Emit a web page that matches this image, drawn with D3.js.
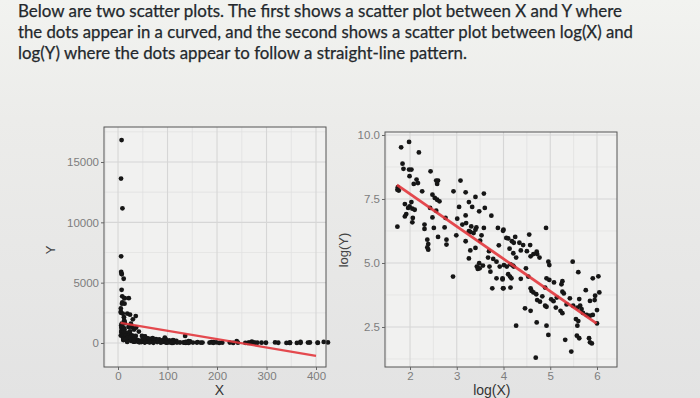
<!DOCTYPE html>
<html>
<head>
<meta charset="utf-8">
<script src="https://cdn.jsdelivr.net/npm/d3@7"></script>
<style>
  html, body { margin: 0; padding: 0; background: #e9e9e8; }
  svg { display: block; }
</style>
</head>
<body>
<svg id="chart" width="700" height="398"></svg>
<script>
// ---------------- DATA ----------------
const introLines = [
  "Below are two scatter plots.  The first shows a scatter plot between X and Y where",
  "the dots appear in a curved, and the second shows a scatter plot between log(X) and",
  "log(Y) where the dots appear to follow a straight-line pattern."
];

const logX = [
  1.98,1.81,2.19,1.84,1.86,1.98,2.03,1.99,2.14,2.17,2.08,2.44,2.56,2.60,2.58,1.74,1.76,1.73,2.26,3.08,
  2.93,2.48,2.53,2.58,2.63,3.19,3.40,3.58,3.26,1.89,1.99,2.05,2.10,1.96,2.03,2.43,2.56,3.05,3.33,3.48,
  3.60,1.92,1.89,2.06,2.05,2.48,2.76,3.19,3.01,3.74,1.73,2.31,2.31,2.51,2.74,3.12,3.20,3.31,3.42,3.40,
  3.26,3.29,3.36,3.53,3.58,3.88,3.99,2.60,2.78,2.99,3.19,3.50,2.37,2.39,2.37,2.39,2.78,3.29,3.40,3.69,
  3.90,4.06,
  4.00,4.91,4.25,4.10,4.18,4.22,4.34,4.42,4.55,4.57,4.37,4.50,4.13,4.71,
  3.26,3.78,3.67,3.85,3.48,3.43,3.49,3.56,3.45,3.70,3.92,2.92,3.72,3.85,3.98,3.76,3.99,
  4.21,4.27,4.58,4.64,4.72,4.77,4.01,4.07,4.15,4.20,4.22,4.48,4.96,4.98,5.48,3.98,4.10,4.14,4.17,
  4.37,4.53,5.60,4.92,4.98,5.08,5.26,5.24,5.91,4.00,4.15,4.58,4.60,4.64,4.70,4.89,5.26,5.29,5.76,
  4.72,4.78,5.07,5.14,5.42,5.62,5.96,5.85,4.89,4.92,5.12,5.49,5.58,5.64,5.67,5.78,5.85,5.91,6.00,
  4.46,4.58,5.22,5.26,5.55,5.60,5.58,6.00,4.27,4.71,4.92,4.96,5.32,5.57,5.62,5.83,5.85,5.89,5.45,4.69,
  6.03,6.05,5.95,5.70,5.35,5.02,4.83
];
const logY = [
  9.73,9.52,9.32,8.88,8.68,8.65,8.65,8.39,8.26,8.12,8.09,8.58,8.22,8.22,8.09,7.96,7.83,7.86,7.80,8.22,
  7.80,7.67,7.54,7.47,7.41,7.76,7.58,7.71,7.38,7.30,7.21,7.12,7.08,7.15,7.38,7.15,7.04,7.19,7.19,7.02,
  7.15,6.91,6.82,6.76,6.59,6.78,6.76,6.86,6.73,6.85,6.42,6.50,6.33,6.37,6.39,6.50,6.56,6.43,6.39,6.30,
  6.24,6.21,6.17,6.08,6.37,6.37,6.26,6.02,5.91,6.08,5.85,5.87,5.91,5.74,5.61,5.52,5.72,5.49,5.59,5.46,
  5.69,5.98,
  6.30,6.37,6.02,5.96,5.85,5.79,5.79,5.70,6.11,5.70,5.49,5.46,5.56,5.44,
  5.18,5.16,5.21,5.05,4.99,4.86,4.79,4.90,4.77,4.86,4.86,4.47,4.66,4.40,4.36,4.01,4.01,
  5.38,5.21,5.26,5.35,5.35,5.21,4.92,4.86,4.95,4.90,4.86,4.79,5.05,4.92,5.05,4.40,4.56,4.47,4.40,
  4.38,4.47,4.64,4.40,4.34,4.24,4.29,4.17,4.40,4.01,4.04,4.01,3.91,3.85,3.78,4.04,3.88,3.81,3.94,
  3.55,3.49,3.51,3.65,3.62,3.59,3.72,3.52,3.33,3.29,3.26,3.33,3.26,3.33,3.20,2.97,2.94,2.97,3.16,
  3.23,3.13,3.13,3.04,2.81,2.73,2.55,2.64,2.55,2.68,2.55,2.19,2.00,2.16,2.06,2.06,1.90,1.86,1.54,1.30,
  4.48,3.85,3.55,3.05,3.38,3.58,3.70
];

// straight-line fits as drawn in the picture (end points)
const fitX = [5, 400];
const fitY = [1670, -1066];
const fitLogX = [1.72, 5.99];
const fitLogY = [8.05, 2.64];

// tick labels
const xTicks = [0, 100, 200, 300, 400];
const yTicks = [0, 5000, 10000, 15000];
const logXTicks = [2, 3, 4, 5, 6];
const logYTicks = [2.5, 5.0, 7.5, 10.0];
const xMinor = [-25, 50, 150, 250, 350];
const yMinor = [-2500, 2500, 7500, 12500, 17500];
const logXMinor = [1.5, 2.5, 3.5, 4.5, 5.5];
const logYMinor = [1.25, 3.75, 6.25, 8.75];

// the left panel shows the same observations on their original scale
const X = logX.map(v => Math.exp(v));
const Y = logY.map(v => Math.exp(v));

// ---------------- DRAWING ----------------
const svg = d3.select("#chart");

const defs = svg.append("defs");
const bg = defs.append("linearGradient").attr("id", "bg").attr("x1", 0).attr("y1", 0).attr("x2", 0).attr("y2", 1);
bg.append("stop").attr("offset", "0").attr("stop-color", "#f2f3f0");
bg.append("stop").attr("offset", "0.3").attr("stop-color", "#ececea");
bg.append("stop").attr("offset", "1").attr("stop-color", "#e3e3e3");
svg.append("rect").attr("width", 700).attr("height", 398).attr("fill", "url(#bg)");

// intro text
const targetW = [604, 615, 449];
const baseY = [16.5, 37.8, 59.2];
introLines.forEach((t, i) => {
  svg.append("text")
    .attr("x", 18).attr("y", baseY[i])
    .attr("font-family", "Lato, 'Open Sans', sans-serif")
    .attr("font-size", 17.6)
    .attr("fill", "#23282c")
    .attr("stroke", "#23282c").attr("stroke-width", 0.25)
    .attr("textLength", targetW[i]).attr("lengthAdjust", "spacingAndGlyphs")
    .text(t);
});

function panel(cfg) {
  const g = svg.append("g");
  const x = d3.scaleLinear().domain(cfg.xDomain).range([cfg.left, cfg.right]);
  const y = d3.scaleLinear().domain(cfg.yDomain).range([cfg.bottom, cfg.top]);

  g.append("rect")
    .attr("x", cfg.left).attr("y", cfg.top)
    .attr("width", cfg.right - cfg.left).attr("height", cfg.bottom - cfg.top)
    .attr("fill", "#f1f1f0");

  const grid = g.append("g");
  grid.selectAll(".vmin").data(cfg.xMinor.filter(v => x(v) > cfg.left && x(v) < cfg.right)).join("line")
    .attr("x1", d => x(d)).attr("x2", d => x(d)).attr("y1", cfg.top).attr("y2", cfg.bottom)
    .attr("stroke", "#e0e0e0").attr("stroke-width", 0.7);
  grid.selectAll(".hmin").data(cfg.yMinor.filter(v => y(v) > cfg.top && y(v) < cfg.bottom)).join("line")
    .attr("y1", d => y(d)).attr("y2", d => y(d)).attr("x1", cfg.left).attr("x2", cfg.right)
    .attr("stroke", "#e0e0e0").attr("stroke-width", 0.7);
  grid.selectAll(".vmaj").data(cfg.xTicks).join("line")
    .attr("x1", d => x(d)).attr("x2", d => x(d)).attr("y1", cfg.top).attr("y2", cfg.bottom)
    .attr("stroke", "#d6d6d6").attr("stroke-width", 1.1);
  grid.selectAll(".hmaj").data(cfg.yTicks).join("line")
    .attr("y1", d => y(d)).attr("y2", d => y(d)).attr("x1", cfg.left).attr("x2", cfg.right)
    .attr("stroke", "#d6d6d6").attr("stroke-width", 1.1);

  // points
  g.append("g").selectAll("circle").data(cfg.px.map((v, i) => [v, cfg.py[i]])).join("circle")
    .attr("cx", d => x(d[0])).attr("cy", d => y(d[1])).attr("r", 2.4)
    .attr("fill", "#161616");

  // fit line
  g.append("path")
    .datum(cfg.fx.map((v, i) => [v, cfg.fy[i]]))
    .attr("d", d3.line().x(d => x(d[0])).y(d => y(d[1])))
    .attr("stroke", "#e2363c").attr("stroke-width", cfg.lineW).attr("fill", "none")
    .attr("stroke-opacity", 0.9);

  // border
  g.append("rect")
    .attr("x", cfg.left).attr("y", cfg.top)
    .attr("width", cfg.right - cfg.left).attr("height", cfg.bottom - cfg.top)
    .attr("fill", "none").attr("stroke", "#555").attr("stroke-width", 1);

  // axes
  const xa = g.append("g").attr("transform", `translate(0,${cfg.bottom})`)
    .call(d3.axisBottom(x).tickValues(cfg.xTicks).tickSize(3).tickPadding(2).tickFormat(cfg.xFmt));
  const ya = g.append("g").attr("transform", `translate(${cfg.left},0)`)
    .call(d3.axisLeft(y).tickValues(cfg.yTicks).tickSize(3).tickPadding(2).tickFormat(cfg.yFmt));
  [xa, ya].forEach(a => {
    a.select(".domain").remove();
    a.selectAll(".tick line").attr("stroke", "#666");
    a.selectAll(".tick text")
      .attr("font-family", "'Liberation Sans', Arial, sans-serif")
      .attr("font-size", 11.5).attr("fill", "#7d7d7d");
  });

  g.append("text")
    .attr("x", (x(cfg.xTitleAt))).attr("y", cfg.bottom + 28)
    .attr("text-anchor", "middle")
    .attr("font-family", "'Liberation Sans', Arial, sans-serif")
    .attr("font-size", 14).attr("fill", "#333")
    .text(cfg.xTitle);
  g.append("text")
    .attr("transform", `translate(${cfg.yTitleX},${cfg.yTitleY}) rotate(-90)`)
    .attr("text-anchor", "middle")
    .attr("font-family", "'Liberation Sans', Arial, sans-serif")
    .attr("font-size", 13).attr("fill", "#444")
    .text(cfg.yTitle);
}

panel({
  left: 104, right: 326, top: 127, bottom: 367,
  xDomain: [-28.3, 420.2], yDomain: [-1989, 17900],
  xTicks: xTicks, yTicks: yTicks, xMinor: xMinor, yMinor: yMinor,
  xFmt: d3.format("d"), yFmt: d3.format("d"),
  px: X, py: Y, fx: fitX, fy: fitY, lineW: 2.2,
  xTitle: "X", xTitleAt: 205, yTitle: "Y", yTitleX: 55, yTitleY: 250
});

panel({
  left: 385, right: 617, top: 132, bottom: 367,
  xDomain: [1.465, 6.428], yDomain: [0.9375, 10.117],
  xTicks: logXTicks, yTicks: logYTicks, xMinor: logXMinor, yMinor: logYMinor,
  xFmt: d3.format("d"), yFmt: d3.format(".1f"),
  px: logX, py: logY, fx: fitLogX, fy: fitLogY, lineW: 2.8,
  xTitle: "log(X)", xTitleAt: 3.75, yTitle: "log(Y)", yTitleX: 348, yTitleY: 250
});
</script>
</body>
</html>
